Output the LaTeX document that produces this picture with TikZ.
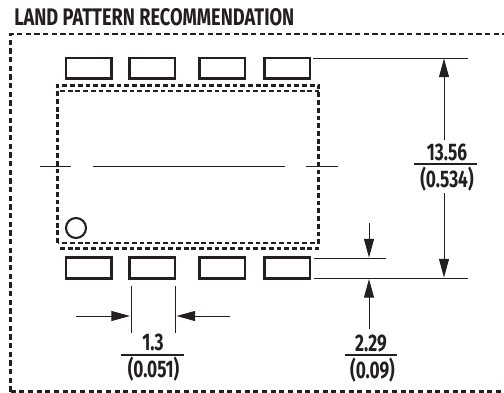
\documentclass[tikz,border=0pt]{standalone}
\usepackage{fontspec}
\setmainfont{Fira Sans}
\newfontfamily\lblfont[FakeStretch=0.72]{Fira Sans}
\newfontfamily\ttlfont[FakeStretch=0.76]{Fira Sans}
\usetikzlibrary{arrows.meta}
\definecolor{ink}{RGB}{35,31,32}
\tikzset{
  x=0.75pt,y=-0.75pt,
  pad/.style={draw=ink,line width=1.6pt,fill=white},
  outerdash/.style={draw=ink,line width=2pt,dash pattern=on 3.9pt off 2.6pt},
  innerdash/.style={draw=ink,line width=2pt,dash pattern=on 3.6pt off 2.2pt},
  thin/.style={draw=ink,line width=0.75pt},
  dim/.style={draw=ink,line width=0.75pt,-{Triangle[length=14pt,width=7.5pt]}},
  val/.style={font=\lblfont\bfseries\fontsize{18}{20}\selectfont,text=ink,inner sep=0pt,anchor=base},
  rule/.style={draw=ink,line width=0.9pt}
}
\begin{document}
\begin{tikzpicture}
\useasboundingbox (0,0) rectangle (504,393);
\node[font=\ttlfont\bfseries\fontsize{18}{20}\selectfont,text=ink,inner sep=0pt,anchor=base west] (title) at (14,25) {LAND PATTERN RECOMMENDATION};
\draw[outerdash] (10.5,391.5) -- (10.5,34) -- (504,34) (10.5,391.5) -- (504,391.5);
\draw[innerdash] (57.5,243) -- (57.5,85.5) -- (318.5,85.5) -- (318.5,243) -- cycle;
\draw[innerdash] (60,91) -- (319,91) (60,248.5) -- (319,248.5);
\foreach \xa in {66,129.5,199.5,264.5}{
  \draw[pad] (\xa,58) rectangle ++(45.5,20.5);
  \draw[pad] (\xa,257.5) rectangle ++(45.5,21);
}
\draw[thin] (40,166) -- (71,166) (93,166) -- (285,166) (306,166) -- (338,166);
\draw[draw=ink,line width=1.6pt] (76,228) circle (10);
\coordinate (ttop) at (313,58);
\coordinate (ttopend) at (468,58);
\coordinate (b1) at (314,258);
\coordinate (b1end) at (386,258);
\coordinate (b2) at (314,278);
\coordinate (b2end) at (468,278);
\draw[thin] (ttop) -- (ttopend) (b1) -- (b1end) (b2) -- (b2end);
\coordinate (upA) at (444,140);
\coordinate (upB) at (444,58.5);
\coordinate (dnA) at (444,193);
\coordinate (dnB) at (444,277.5);
\draw[dim] (upA) -- (upB);
\draw[dim] (dnA) -- (dnB);
\coordinate (s1) at (369,223);
\coordinate (s1e) at (369,257.5);
\coordinate (s2) at (369,329);
\coordinate (s2e) at (369,279);
\draw[dim] (s1) -- (s1e);
\draw[dim] (s2) -- (s2e);
\draw[thin] (131,286) -- (131,332.5) (175,286) -- (175,332.5);
\coordinate (h1) at (76,316);
\coordinate (h1e) at (130,316);
\coordinate (h2) at (230,316);
\coordinate (h2e) at (176.5,316);
\draw[dim] (h1) -- (h1e);
\draw[dim] (h2) -- (h2e);
\draw[rule] (414,164) -- (477,164);
\node[val] (v1) at (447,160.5) {13.56};
\node[val] (v1b) at (447,187) {(0.534)};
\draw[rule] (121,355) -- (184,355);
\node[val] (v2) at (153,350.5) {1.3};
\node[val] (v2b) at (153.5,377.5) {(0.051)};
\draw[rule] (345,355) -- (397,355);
\node[val] (v3) at (371,351) {2.29};
\node[val] (v3b) at (372.5,378) {(0.09)};
\end{tikzpicture}
\end{document}
